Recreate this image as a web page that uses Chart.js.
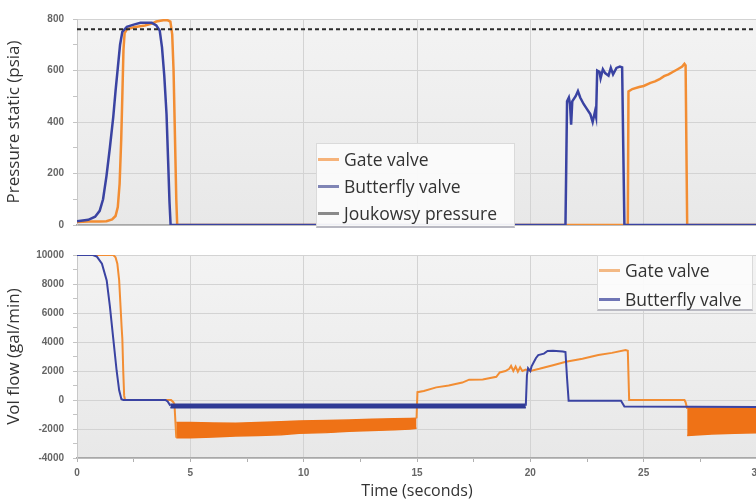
<!DOCTYPE html>
<html><head><meta charset="utf-8">
<script src="https://cdn.jsdelivr.net/npm/chart.js@4.4.1/dist/chart.umd.min.js"></script>
<style>
html,body{margin:0;padding:0;background:#fff;overflow:hidden;}
#wrap{position:relative;width:756px;height:504px;overflow:hidden;font-family:"Open Sans",sans-serif;}
canvas{position:absolute;left:0;}
#c1{top:0}
#c2{top:240px}
.legend{position:absolute;background:rgba(251,251,251,0.94);border:1px solid #dadada;border-bottom:2px solid #b9b9c2;box-sizing:border-box;}
.item{position:absolute;left:0;height:24px;line-height:24px;font-size:17.5px;color:#333;white-space:nowrap;}
.item i{position:absolute;left:1px;top:11px;width:21px;height:3px;}
.item span{position:absolute;left:27px;top:0}
</style></head>
<body>
<div id="wrap">
<canvas id="c1" width="780" height="240"></canvas>
<canvas id="c2" width="780" height="264"></canvas>
<div class="legend" style="left:316px;top:143px;width:199px;height:85px;">
  <div class="item" style="top:3px"><i style="background:#f6b37a"></i><span>Gate valve</span></div>
  <div class="item" style="top:30px"><i style="background:#8085b5"></i><span>Butterfly valve</span></div>
  <div class="item" style="top:57px"><i style="background:#8a8a8a"></i><span>Joukowsy pressure</span></div>
</div>
<div class="legend" style="left:597px;top:255px;width:156px;height:56px;">
  <div class="item" style="top:2px"><i style="background:#f3b985"></i><span>Gate valve</span></div>
  <div class="item" style="top:31px"><i style="background:#6f75b5"></i><span>Butterfly valve</span></div>
</div>
</div>
<script>
// ---------- DATA ----------
// Pressure (psia)
const joukowsyPressure = 760;
const gatePressT = [0,0.5,1.0,1.3,1.55,1.7,1.8,1.88,1.95,2.0,2.05,2.1,2.2,2.5,3.0,3.3,3.5,3.8,4.0,4.12,4.2,4.26,4.32,4.38,4.42,24.3,24.33,24.5,24.8,25.0,25.3,25.5,25.7,25.9,26.1,26.3,26.5,26.7,26.8,26.85,26.92,30];
const gatePressV = [12,14,14,15,22,35,70,160,330,500,680,745,760,768,775,782,790,795,795,790,740,600,350,100,0,0,519,528,536,540,552,558,566,578,585,595,605,615,626,620,0,0];
const flyPressT = [0,0.5,0.8,1.0,1.15,1.3,1.45,1.6,1.7,1.8,1.9,2.0,2.2,2.5,2.8,3.3,3.5,3.65,3.75,3.85,3.95,4.02,4.08,4.13,21.55,21.58,21.62,21.7,21.75,21.8,21.85,22.0,22.1,22.2,22.35,22.5,22.65,22.75,22.85,22.9,22.95,23.05,23.1,23.2,23.3,23.45,23.55,23.65,23.8,23.95,24.05,24.1,24.15,30];
const flyPressV = [15,20,32,55,100,190,300,420,520,610,700,750,770,778,785,785,775,755,690,580,430,250,90,0,0,200,480,495,470,390,480,500,520,495,470,450,430,400,440,420,600,595,570,605,590,580,610,585,610,615,612,300,0,0];

// Volume flow (gal/min)
const gateFlowT = [0,1.6,1.7,1.78,1.86,1.92,1.97,2.0,2.04,2.08,2.12,4.15,4.25,4.3,4.38,null,14.98,15.02,15.3,15.85,16.4,17.0,17.3,17.9,18.5,18.65,18.9,19.07,19.15,19.25,19.35,19.45,19.55,19.65,19.8,20.0,20.4,21.0,21.57,22.3,23.0,23.6,24.2,24.3,24.36,26.8,26.85,26.92];
const gateFlowV = [10000,10000,9850,9400,8250,6470,5000,4230,2000,300,0,0,-150,-300,-2600,null,-1250,540,620,870,1000,1200,1400,1420,1600,1900,2000,2150,2350,2000,2300,1950,2250,2000,2100,2000,2150,2400,2640,2850,3100,3250,3450,3400,0,0,-150,-600];
// oscillating band envelope (gate valve, dense oscillation)
const gateBandT = [4.38,5,6,7,8,9,9.8,11,12,13,14,14.7,14.98];
const gateBandHi = [-1550,-1550,-1580,-1600,-1550,-1500,-1450,-1420,-1380,-1330,-1300,-1270,-1250];
const gateBandLo = [-2600,-2600,-2550,-2480,-2450,-2400,-2300,-2250,-2150,-2100,-2050,-2000,-1950];
const gateBand2T = [26.92,28,29,30];
const gateBand2Hi = [-560,-560,-560,-560];
const gateBand2Lo = [-2450,-2350,-2300,-2250];

const flyFlowT = [0,0.7,0.87,1.1,1.31,1.45,1.6,1.75,1.86,1.96,2.05,3.9,4.0,4.12,null,19.8,19.85,19.9,20.0,20.05,20.15,20.25,20.35,20.6,20.76,21.0,21.43,21.55,21.62,21.69,24.0,24.15,30];
const flyFlowV = [10000,10000,9900,9400,8250,6470,4230,2000,670,50,0,0,-100,-400,null,-400,1700,2200,2000,2300,2600,2900,3100,3200,3380,3400,3350,3300,1500,-50,-50,-450,-480];
const flyBandT = [4.12,19.8];
const flyBandHi = [-290,-290];
const flyBandLo = [-530,-530];

// ---------- STYLE ----------
const ORANGE = '#F28D33', ORANGE_BAND = '#EF7216', BLUE = '#3A43A2', BLUE_BAND = '#2F3A95';
const pts = (t, v) => t.map((x, i) => (x === null ? {x: NaN, y: null} : {x, y: v[i]}));

const tickFont = {family: 'Liberation Sans', size: 10, weight: 'bold'};
const bgPlugin = {
  id: 'plotBg',
  beforeDraw(chart) {
    const {ctx, chartArea: a} = chart;
    const g = ctx.createLinearGradient(0, a.top, 0, a.bottom);
    g.addColorStop(0, '#f3f3f3');
    g.addColorStop(1, '#e8e8e8');
    ctx.save(); ctx.fillStyle = g; ctx.fillRect(a.left, a.top, a.right - a.left, a.bottom - a.top); ctx.restore();
  }
};
function xScale(showTicks) {
  return {
    type: 'linear', min: 0, max: 30,
    ticks: {display: showTicks, stepSize: 2.5, autoSkip: false, maxRotation: 0, padding: 5,
      font: tickFont, color: '#666', callback: v => (v % 5 === 0 ? String(v) : '')},
    grid: {color: c => (c.tick && c.tick.value % 5 === 0 ? '#d3d3d3' : 'rgba(0,0,0,0)'),
      tickColor: '#b0b0b0', tickLength: 4, drawTicks: showTicks},
    border: {color: '#a8a8a8', width: 1.5},
    title: showTicks ? {display: true, text: 'Time (seconds)', font: {family: 'Open Sans', size: 16}, color: '#333', padding: {top: 0, bottom: 3}} : {display: false},
    afterFit: s => { if (showTicks) s.height = 46; }
  };
}
function yScale(min, max, minor, major, title) {
  return {
    type: 'linear', min, max,
    ticks: {stepSize: minor, autoSkip: false, padding: 9, font: tickFont, color: '#666',
      callback: v => (v % major === 0 ? String(v) : '')},
    grid: {color: c => (c.tick && c.tick.value % major === 0 ? '#d3d3d3' : 'rgba(0,0,0,0)'),
      tickColor: '#c4c4c4', tickLength: 4},
    border: {color: '#c8c8c8', width: 1},
    title: {display: true, text: title, font: {family: 'Open Sans', size: 17}, color: '#333', padding: {top: 4}},
    afterFit: s => { s.width = 77; }
  };
}
const common = {
  responsive: false, animation: false, devicePixelRatio: 1,
  plugins: {legend: {display: false}, tooltip: {enabled: false}},
  elements: {point: {radius: 0}, line: {tension: 0}}
};

new Chart(document.getElementById('c1'), {
  type: 'line',
  data: {datasets: [
    {label: 'Joukowsy pressure', data: pts([0, 30], [joukowsyPressure, joukowsyPressure]), borderColor: '#2b2b2b', borderWidth: 2, borderDash: [4, 3], order: -1},
    {label: 'Gate valve', data: pts(gatePressT, gatePressV), borderColor: ORANGE, borderWidth: 2.5, order: 2},
    {label: 'Butterfly valve', data: pts(flyPressT, flyPressV), borderColor: BLUE, borderWidth: 2.5, order: 1}
  ]},
  options: Object.assign({}, common, {
    layout: {padding: {top: 19, bottom: 8, left: 0, right: 23}},
    scales: {x: xScale(false), y: yScale(0, 800, 100, 200, 'Pressure static (psia)')}
  }),
  plugins: [bgPlugin]
});

new Chart(document.getElementById('c2'), {
  type: 'line',
  data: {datasets: [
    {label: 'Gate valve', data: pts(gateFlowT, gateFlowV), borderColor: ORANGE, borderWidth: 2, spanGaps: false, order: 3},
    {label: 'Gate band hi', data: pts(gateBandT, gateBandHi), borderColor: ORANGE_BAND, backgroundColor: ORANGE_BAND, borderWidth: 1.5, fill: '+1', order: 4},
    {label: 'Gate band lo', data: pts(gateBandT, gateBandLo), borderColor: ORANGE_BAND, borderWidth: 1.5, order: 4},
    {label: 'Gate band2 hi', data: pts(gateBand2T, gateBand2Hi), borderColor: ORANGE_BAND, backgroundColor: ORANGE_BAND, borderWidth: 1.5, fill: '+1', order: 4},
    {label: 'Gate band2 lo', data: pts(gateBand2T, gateBand2Lo), borderColor: ORANGE_BAND, borderWidth: 1.5, order: 4},
    {label: 'Butterfly valve', data: pts(flyFlowT, flyFlowV), borderColor: BLUE, borderWidth: 2, spanGaps: false, order: 0},
    {label: 'Fly band hi', data: pts(flyBandT, flyBandHi), borderColor: BLUE_BAND, backgroundColor: BLUE_BAND, borderWidth: 1.5, fill: '+1', order: 1},
    {label: 'Fly band lo', data: pts(flyBandT, flyBandLo), borderColor: BLUE_BAND, borderWidth: 1.5, order: 1}
  ]},
  options: Object.assign({}, common, {
    layout: {padding: {top: 9, bottom: 0, left: 0, right: 23}},
    scales: {x: xScale(true), y: yScale(-4000, 10000, 1000, 2000, 'Vol flow (gal/min)')}
  }),
  plugins: [bgPlugin]
});
</script>
</body></html>
